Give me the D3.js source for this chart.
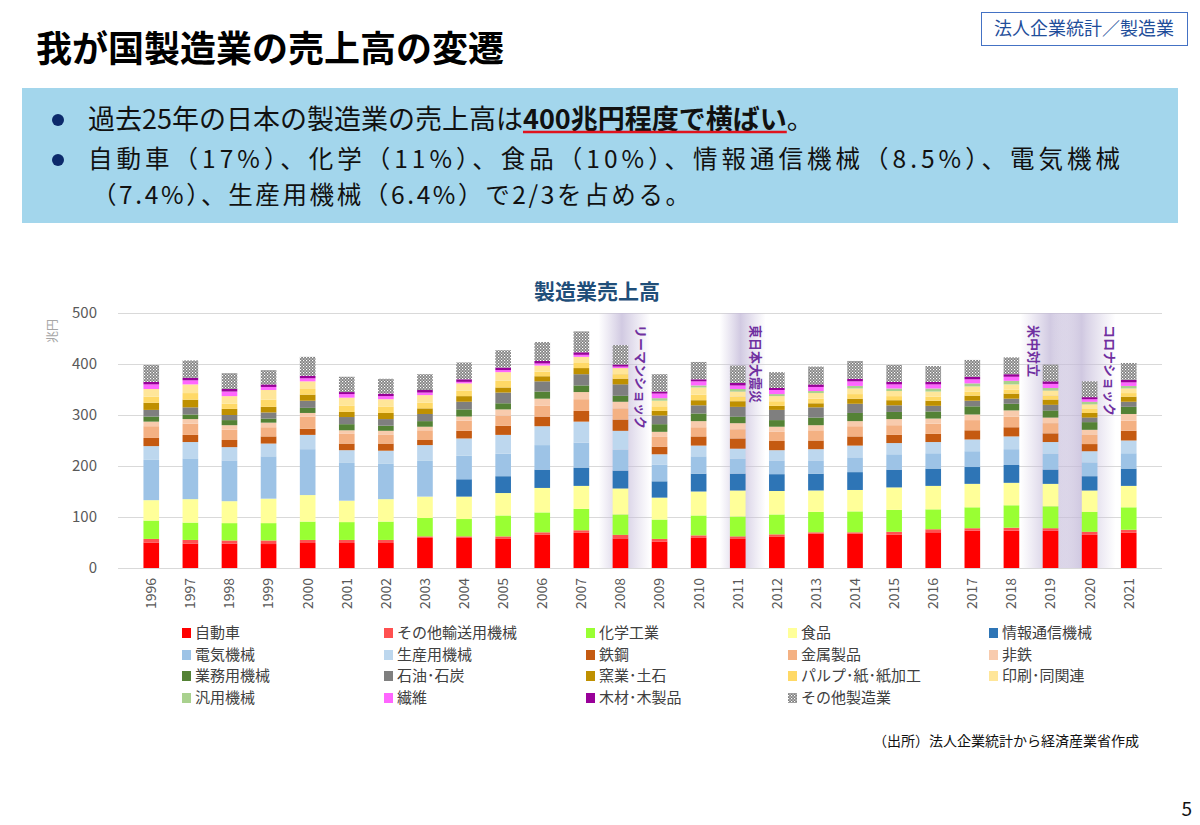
<!DOCTYPE html>
<html>
<head>
<meta charset="utf-8">
<script src="https://cdn.jsdelivr.net/npm/d3@7"></script>
<style>
  body { margin: 0; background: #fff; }
  svg { display: block; font-family: "Noto Sans CJK JP", "Noto Sans", sans-serif; }
</style>
</head>
<body>
<svg id="chart" width="1200" height="825"></svg>
<script>
// years on the x axis
var years = [1996,1997,1998,1999,2000,2001,2002,2003,2004,2005,2006,2007,2008,2009,2010,2011,2012,2013,2014,2015,2016,2017,2018,2019,2020,2021];

// sales by industry (trillion yen)
var jidosha    = [50,48,48,47,49,49,49,59,59,57,65,69,58,52,59,57,61,67,67,65,70,73,73,73,65,69];
var sonotaYuso = [7,7,6,7,6,6,6,3,3,5,5,5,7,5,5,5,5,3,3,6,6,5,6,5,6,6];
var kagaku     = [36,34,34,34,36,35,36,36,34,41,39,42,40,38,39,39,39,40,41,43,39,41,44,43,39,44];
var shokuhin   = [40,46,43,48,52,42,44,42,44,44,48,45,51,43,47,51,46,42,42,44,46,46,44,44,42,42];
var joho       = [0,0,0,0,0,0,0,0,34,33,36,36,35,32,35,33,33,33,35,35,34,33,35,28,28,34];
var denki      = [79,80,80,83,90,74,70,70,46,44,48,49,41,33,34,29,27,26,29,30,30,31,31,31,27,30];
var seisanyo   = [27,32,26,25,28,25,25,31,34,37,37,41,37,20,21,20,20,22,23,22,22,23,25,23,22,25];
var tekko      = [16,14,14,14,12,13,14,10,15,18,19,21,22,15,18,20,18,17,18,16,16,18,18,17,14,19];
var kinzoku    = [23,22,20,18,24,19,17,19,20,20,21,23,22,19,18,18,18,20,20,19,20,20,21,20,18,20];
var hitetsu    = [9,9,9,9,7,7,8,7,8,12,14,14,13,10,12,12,10,10,10,12,10,11,12,11,10,13];
var gyomuyo    = [10,9,10,8,10,12,10,11,14,12,14,13,12,15,15,13,13,15,16,14,14,16,13,14,15,14];
var sekiyu     = [13,14,10,12,14,14,13,14,15,21,20,22,22,17,16,19,20,20,18,13,11,11,10,11,9,10];
var yogyo      = [14,15,12,11,12,10,12,11,11,10,10,12,11,9,10,11,8,8,10,10,10,10,10,10,9,10];
var pulp       = [12,13,10,14,11,12,12,11,11,13,9,10,9,9,11,9,9,9,9,8,8,8,8,8,8,7];
var insatsu    = [15,17,15,19,15,16,15,15,14,17,12,12,12,11,14,10,10,11,11,10,10,10,10,10,9,9];
var hanyo      = [0,0,0,0,0,0,0,0,0,0,0,0,0,5,4,5,4,4,5,5,6,6,7,5,5,5];
var seni       = [9,8,9,6,6,7,6,5,3,4,4,4,3,9,8,7,8,8,9,8,8,8,8,8,5,7];
var mokuzai    = [5,5,5,5,5,4,5,5,5,5,5,5,4,4,4,5,4,5,5,5,5,5,5,5,4,5];
var sonota     = [33,34,31,28,37,30,29,31,33,34,37,41,38,34,34,34,31,35,35,33,31,33,33,33,31,33];

var seriesNames = ['自動車','その他輸送用機械','化学工業','食品','情報通信機械',
                   '電気機械','生産用機械','鉄鋼','金属製品','非鉄',
                   '業務用機械','石油･石炭','窯業･土石','パルプ･紙･紙加工','印刷･同関連',
                   '汎用機械','繊維','木材･木製品','その他製造業'];
var seriesValues = [jidosha, sonotaYuso, kagaku, shokuhin, joho, denki, seisanyo, tekko, kinzoku, hitetsu,
                    gyomuyo, sekiyu, yogyo, pulp, insatsu, hanyo, seni, mokuzai, sonota];
var seriesColors = ['#ff0000','#ff5050','#99ff33','#ffff99','#2e75b6',
                    '#9dc3e6','#bdd7ee','#c55a11','#f4b183','#f8cbad',
                    '#548235','#7f7f7f','#bf9000','#ffd966','#ffe699',
                    '#a9d18e','#ff66ff','#990099','url(#dots)'];

var yTicks = [0,100,200,300,400,500];

// events marked with shaded bands
var eventYears  = [2008, 2011, 2019, 2020];
var eventLabels = ['リーマンショック','東日本大震災','米中対立','コロナショック'];

document.addEventListener('DOMContentLoaded', function () {
    const svg = d3.select('#chart');

    // pattern + gradient defs
    const defs = svg.append('defs');
    const pat = defs.append('pattern').attr('id','dots')
        .attr('width',3).attr('height',3).attr('patternUnits','userSpaceOnUse');
    pat.append('rect').attr('width',3).attr('height',3).attr('fill','#808080');
    pat.append('rect').attr('x',0).attr('y',0).attr('width',1.2).attr('height',1.2).attr('fill','#ffffff');
    pat.append('rect').attr('x',1.5).attr('y',1.5).attr('width',1.2).attr('height',1.2).attr('fill','#e8e8e8');

    const grad = defs.append('linearGradient').attr('id','band')
        .attr('x1','0%').attr('x2','100%').attr('y1','0%').attr('y2','0%');
    grad.append('stop').attr('offset','0%').attr('stop-color','#c8bfdc').attr('stop-opacity',0);
    grad.append('stop').attr('offset','45%').attr('stop-color','#c2b8d8').attr('stop-opacity',0.75);
    grad.append('stop').attr('offset','100%').attr('stop-color','#c8bfdc').attr('stop-opacity',0);

    // ---- header ----
    svg.append('text').attr('x',36).attr('y',62)
        .attr('font-size',36).attr('font-weight',700).attr('fill','#000')
        .text('我が国製造業の売上高の変遷');

    svg.append('rect').attr('x',981.5).attr('y',12.5).attr('width',206).attr('height',33)
        .attr('fill','#fff').attr('stroke','#4472c4').attr('stroke-width',1);
    svg.append('text').attr('x',1084).attr('y',35).attr('text-anchor','middle')
        .attr('font-size',18).attr('fill','#1f4e9a')
        .text('法人企業統計／製造業');

    svg.append('rect').attr('x',22).attr('y',88).attr('width',1156).attr('height',135)
        .attr('fill','#a3d6ec');

    [120, 160].forEach(function (cy) {
        svg.append('circle').attr('cx',58).attr('cy',cy).attr('r',6).attr('fill','#0c2a6b');
    });

    const fs = 27;
    let t1 = svg.append('text').attr('x',88).attr('y',129).attr('font-size',fs).attr('fill','#111')
        .text('過去25年の日本の製造業の売上高は');
    let x2 = 88 + t1.node().getComputedTextLength();
    let t2 = svg.append('text').attr('x',x2).attr('y',129).attr('font-size',fs).attr('font-weight',700).attr('fill','#111')
        .text('400兆円程度で横ばい');
    let w2 = t2.node().getComputedTextLength();
    svg.append('text').attr('x',x2 + w2).attr('y',129).attr('font-size',fs).attr('fill','#111').text('。');
    svg.append('line').attr('x1',x2).attr('x2',x2 + w2).attr('y1',132).attr('y2',132)
        .attr('stroke','#e0141e').attr('stroke-width',2.5);

    svg.append('text').attr('x',88).attr('y',168).attr('font-size',24.5).attr('fill','#111')
        .attr('textLength',1032).attr('lengthAdjust','spacing')
        .text('自動車（17%）、化学（11%）、食品（10%）、情報通信機械（8.5%）、電気機械');
    svg.append('text').attr('x',92).attr('y',204).attr('font-size',24.5).attr('fill','#111')
        .attr('textLength',598).attr('lengthAdjust','spacing')
        .text('（7.4%）、生産用機械（6.4%）で2/3を占める。');

    // ---- chart ----
    const plotLeft = 120, plotRight = 1160, plotTop = 313, plotBottom = 568;

    const xScale = d3.scaleBand().domain(years).range([plotLeft, plotRight]).padding(0.6);
    const yScale = d3.scaleLinear().domain([0, 500]).range([plotBottom, plotTop]);

    svg.append('text').attr('x',597).attr('y',299).attr('text-anchor','middle')
        .attr('font-size',21).attr('font-weight',700).attr('fill','#1f4e79')
        .text('製造業売上高');

    // gridlines
    svg.append('g').selectAll('line').data(yTicks).join('line')
        .attr('x1',plotLeft - 2).attr('x2',plotRight + 2)
        .attr('y1',d => yScale(d) + 0.5).attr('y2',d => yScale(d) + 0.5)
        .attr('stroke','#d9d9d9').attr('stroke-width',1);

    // event bands
    const bandOffsets = [[-22, 30], [-18, 28], [-30, 36], [-36, 26]];
    const g = svg.append('g');
    eventYears.forEach(function (yr, i) {
        const cx = xScale(yr) + xScale.bandwidth() / 2;
        g.append('rect')
            .attr('x', cx + bandOffsets[i][0]).attr('y', plotTop)
            .attr('width', bandOffsets[i][1] - bandOffsets[i][0]).attr('height', plotBottom - plotTop)
            .attr('fill','url(#band)');
    });

    // y axis
    const yAxis = d3.axisLeft(yScale).tickValues(yTicks).tickSize(0).tickPadding(0);
    const ya = svg.append('g').attr('transform','translate(97,0)').call(yAxis);
    ya.select('.domain').remove();
    ya.selectAll('text').attr('font-size',15).attr('fill','#595959')
        .attr('font-family','"Noto Sans CJK JP", sans-serif');

    svg.append('text').attr('transform','translate(57,331) rotate(-90)')
        .attr('text-anchor','middle').attr('font-size',12).attr('fill','#a6a6a6').text('兆円');

    // stacked bars
    const table = years.map(function (yr, i) {
        const row = { year: yr };
        seriesNames.forEach(function (n, k) { row[n] = seriesValues[k][i]; });
        return row;
    });
    const stacked = d3.stack().keys(seriesNames)(table);

    svg.append('g').selectAll('g').data(stacked).join('g')
        .attr('fill', (d, i) => seriesColors[i])
        .selectAll('rect').data(d => d).join('rect')
        .attr('x', d => xScale(d.data.year))
        .attr('width', xScale.bandwidth())
        .attr('y', d => yScale(d[1]))
        .attr('height', d => Math.max(0, yScale(d[0]) - yScale(d[1])));

    // x axis labels
    const xAxis = d3.axisBottom(xScale).tickSize(0).tickPadding(0);
    const xa = svg.append('g').attr('transform',`translate(0,${plotBottom})`).call(xAxis);
    xa.select('.domain').remove();
    xa.selectAll('text')
        .attr('font-size',14).attr('fill','#595959')
        .attr('font-family','"Noto Sans CJK JP", sans-serif')
        .attr('text-anchor','end').attr('dy','0.35em')
        .attr('transform','translate(0,10) rotate(-90)');

    // event labels (rotated)
    const labelOffsets = [20, 18, -17, 20];
    eventYears.forEach(function (yr, i) {
        const cx = xScale(yr) + xScale.bandwidth() / 2 + labelOffsets[i];
        svg.append('text')
            .attr('transform', `translate(${cx},${plotTop + 12}) rotate(90)`)
            .attr('dy','0.35em')
            .attr('font-size',13).attr('font-weight',700).attr('fill','#7030a0')
            .text(eventLabels[i]);
    });

    // legend
    const legCols = [182, 384, 586, 788, 989];
    const legRows = [633, 655, 676, 698];
    const leg = svg.append('g').selectAll('g').data(seriesNames).join('g')
        .attr('transform', (d, i) => `translate(${legCols[i % 5]},${legRows[Math.floor(i / 5)]})`);
    leg.append('rect').attr('x',0).attr('y',-5).attr('width',9).attr('height',10)
        .attr('fill', (d, i) => seriesColors[i]);
    leg.append('text').attr('x',13).attr('y',0).attr('dy','0.35em')
        .attr('font-size',15).attr('fill','#404040').text(d => d);

    // source + page
    svg.append('text').attr('x',873).attr('y',746).attr('font-size',14).attr('fill','#111')
        .text('（出所）法人企業統計から経済産業省作成');
    svg.append('text').attr('x',1192).attr('y',816).attr('text-anchor','end')
        .attr('font-size',19).attr('fill','#111').text('5');
});
</script>
</body>
</html>
